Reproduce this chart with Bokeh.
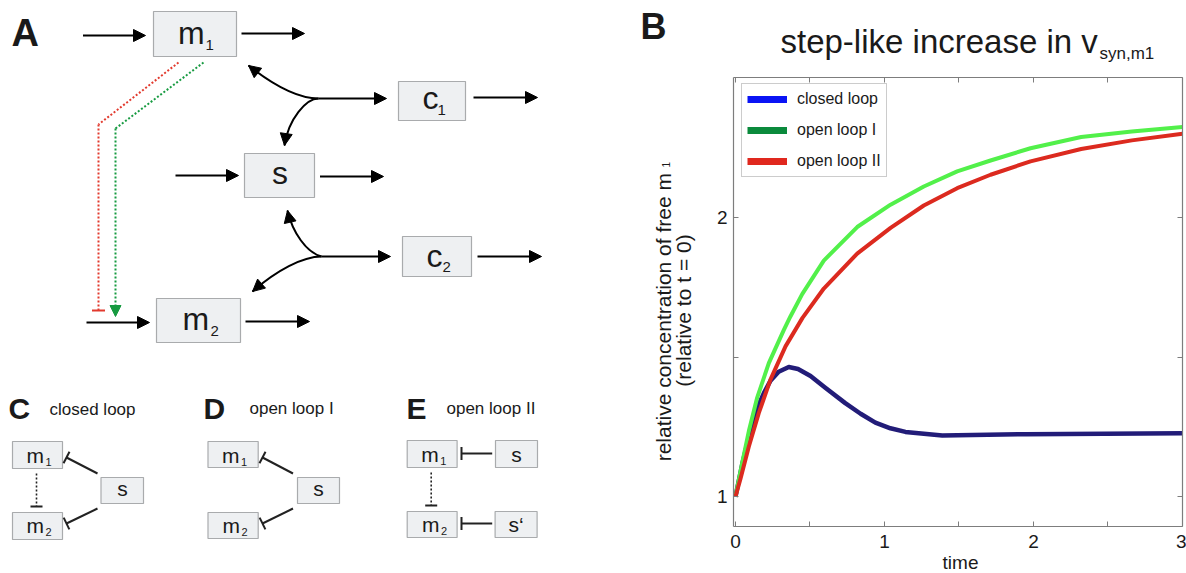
import math
from bokeh.plotting import figure
from bokeh.models import (Range1d, Label, Arrow, NormalHead, TeeHead, LinearAxis,
                          FixedTicker, Legend, LegendItem)
from bokeh.embed import file_html
from bokeh.resources import INLINE

FONT = "Liberation Sans"
INK = "#1a1a1a"

# ---------------- panel B data ----------------
time_closed = [0, 0.045, 0.10, 0.157, 0.19, 0.235, 0.29, 0.358, 0.42, 0.504, 0.603,
               0.737, 0.84, 0.939, 1.04, 1.141, 1.388, 1.95, 3.0]
conc_closed = [1.0, 1.115, 1.235, 1.33, 1.37, 1.415, 1.447, 1.464, 1.457, 1.432, 1.39,
               1.335, 1.297, 1.265, 1.245, 1.232, 1.219, 1.224, 1.227]
time_open1 = [0, 0.045, 0.09, 0.146, 0.224, 0.325, 0.369, 0.448, 0.593, 0.817, 1.041,
              1.264, 1.488, 1.712, 1.98, 2.32, 2.66, 3.0]
conc_open1 = [1.0, 1.12, 1.235, 1.355, 1.478, 1.597, 1.645, 1.725, 1.845, 1.965, 2.045,
              2.11, 2.164, 2.203, 2.247, 2.287, 2.307, 2.323]
time_open2 = [0, 0.034, 0.09, 0.157, 0.235, 0.336, 0.45, 0.593, 0.817, 1.041, 1.264,
              1.488, 1.712, 1.98, 2.32, 2.66, 3.0]
conc_open2 = [1.0, 1.065, 1.18, 1.30, 1.419, 1.538, 1.64, 1.745, 1.87, 1.962, 2.042,
              2.104, 2.152, 2.2, 2.244, 2.275, 2.299]

series_labels = ["closed loop", "open loop I", "open loop II"]
line_colors = ["#221c78", "#52f04a", "#dc2a1f"]
legend_colors = ["#0a14f5", "#0a8a3c", "#e0281e"]

x_ticks = [0, 0.5, 1, 1.5, 2, 2.5, 3]
x_tick_text = ["0", "", "1", "", "2", "", "3"]
y_ticks = [1, 1.5, 2]
y_tick_text = ["1", "", "2"]

title_main = "step-like increase in v"
title_sub = "syn,m1"
ylabel_1 = "relative concentration of free m"
ylabel_1_sub = "1"
ylabel_2 = "(relative to t = 0)"
xlabel = "time"

# ---------------- canvas: one figure, page-pixel coordinates ----------------
W, H = 1186, 573
BOX_L, BOX_R, BOX_T, BOX_B = 733, 1182, 77, 526
X_LO, X_HI = -0.013, 3.0
Y_LO, Y_HI = 0.8936, 2.5
SXB = (BOX_R - BOX_L) / (X_HI - X_LO)
SYB = (BOX_B - BOX_T) / (Y_HI - Y_LO)

p = figure(width=W, height=H, x_range=Range1d(0, W), y_range=Range1d(H, 0),
           x_axis_type=None, y_axis_type=None, output_backend="svg",
           toolbar_location=None, min_border=0)
p.title = None
p.outline_line_color = None
p.extra_x_ranges = {"t": Range1d(X_LO - BOX_L / SXB, X_HI + (W - BOX_R) / SXB)}
p.extra_y_ranges = {"v": Range1d(Y_LO - (H - BOX_B) / SYB, Y_HI + BOX_T / SYB)}

BASE_SHIFT = 0.32  # em; aligns the rendered alphabetic baseline with the target


def label(x, y, s, size, align="left", bold=False, angle=0.0, color=INK):
    if angle:
        x = x - BASE_SHIFT * size
    else:
        y = y - BASE_SHIFT * size
    p.add_layout(Label(x=x, y=y, text=s, text_font=FONT, text_font_size=f"{size}px",
                       text_align=align, text_baseline="alphabetic",
                       text_font_style="bold" if bold else "normal",
                       text_color=color, angle=angle))


# ---------------- diagram panels A, C, D, E ----------------
BOX_FILL = "#eef0f2"
BOX_LINE = "#a9abad"

boxes = [
    (153, 236, 11, 56), (398, 465, 81, 120), (244, 314, 153, 197),
    (402, 471, 236, 276), (156, 240, 298, 342),
    (12, 62, 441, 468), (12, 62, 512, 539), (100.5, 143, 477, 503),
    (207.5, 257.7, 441, 467), (207.5, 257.7, 512, 538), (297, 339, 477, 503),
    (406.7, 456.6, 440, 467), (495, 537, 440, 467),
    (406.7, 456.6, 511, 537), (494.6, 536.6, 511, 537),
]
p.quad(left=[b[0] for b in boxes], right=[b[1] for b in boxes],
       top=[b[2] for b in boxes], bottom=[b[3] for b in boxes],
       fill_color=BOX_FILL, line_color=BOX_LINE, line_width=1.2)

box_texts = [
    (177.5, 43, "m", 32, "left"), (205, 49, "1", 15, "left"),
    (422, 108, "c", 32, "left"), (437, 114, "1", 15, "left"),
    (279.6, 183, "s", 32, "center"),
    (426, 266, "c", 32, "left"), (442, 271, "2", 15, "left"),
    (182, 329, "m", 32, "left"), (210, 335, "2", 15, "left"),
    (26, 462, "m", 21, "left"), (45, 465, "1", 11, "left"),
    (26, 532, "m", 21, "left"), (45, 535, "2", 11, "left"),
    (122, 495, "s", 21, "center"),
    (221.5, 462, "m", 21, "left"), (240.5, 465, "1", 11, "left"),
    (222, 532, "m", 21, "left"), (241, 535, "2", 11, "left"),
    (318, 495, "s", 21, "center"),
    (420.7, 461, "m", 21, "left"), (439.7, 464, "1", 11, "left"),
    (516, 461, "s", 21, "center"),
    (421.5, 531, "m", 21, "left"), (440.5, 534, "2", 11, "left"),
    (515.6, 531, "s\u2018", 21, "center"),
]
for (x, y, s, size, al) in box_texts:
    label(x, y, s, size, align=al)

label(11, 45, "A", 38, bold=True)
label(8, 418, "C", 30, bold=True)
label(49, 414, "closed loop", 17)
label(203, 418, "D", 30, bold=True)
label(249, 413, "open loop I", 17)
label(406, 418, "E", 30, bold=True)
label(446, 413, "open loop II", 17)


def head(color="black", size=12):
    return NormalHead(size=size, fill_color=color, line_color=color, line_width=1)


straight = [
    ((82.5, 35), (145, 35)), ((241, 33), (304, 33)), ((473, 97), (537, 97)),
    ((175, 175), (238, 175)), ((319.5, 176), (383, 176)), ((477, 256), (541, 256)),
    ((86, 322), (149, 322)), ((245, 321), (309, 321)),
    ((318, 98), (386, 98)), ((321, 256), (390, 256)),
]
for (a, b) in straight:
    p.add_layout(Arrow(x_start=a[0], y_start=a[1], x_end=b[0], y_end=b[1],
                       line_width=2, line_color="black", end=head()))

curves = [
    ((318, 98), (298, 98), (272, 84), (248, 65)),
    ((318, 98), (306, 98), (288, 118), (284, 145)),
    ((321, 256), (306, 252), (292, 232), (287, 210)),
    ((321, 256), (302, 256), (276, 270), (252, 291)),
]
for (p0, c0, c1, p1) in curves:
    p.bezier(x0=[p0[0]], y0=[p0[1]], x1=[p1[0]], y1=[p1[1]],
             cx0=[c0[0]], cy0=[c0[1]], cx1=[c1[0]], cy1=[c1[1]],
             line_color="black", line_width=2)
    dx, dy = p1[0] - c1[0], p1[1] - c1[1]
    L = math.hypot(dx, dy)
    p.add_layout(Arrow(x_start=p1[0] - 3 * dx / L, y_start=p1[1] - 3 * dy / L,
                       x_end=p1[0], y_end=p1[1], line_alpha=0, end=head()))

RED = "#e23a2e"
GREEN = "#169a40"
p.line([178, 98], [62, 124], line_color=RED, line_width=2, line_dash="2 2")
p.add_layout(Arrow(x_start=98, y_start=124, x_end=98, y_end=310, line_color=RED,
                   line_width=2, line_dash="2 2",
                   end=TeeHead(size=13, line_color=RED, line_width=2)))
p.line([203, 115], [62, 128], line_color=GREEN, line_width=2, line_dash="2 2")
p.add_layout(Arrow(x_start=115, y_start=128, x_end=115, y_end=316, line_color=GREEN,
                   line_width=2, line_dash="2 2", end=head(GREEN, 11)))

tees = [
    ((97, 473), (66, 457)), ((97, 508), (66, 523)),
    ((292.5, 473), (262, 457)), ((292.5, 508), (262, 523)),
    ((491.7, 453), (461, 453)), ((491.7, 523), (461, 523)),
]
for (a, b) in tees:
    p.add_layout(Arrow(x_start=a[0], y_start=a[1], x_end=b[0], y_end=b[1],
                       line_width=2, line_color="#222222",
                       end=TeeHead(size=13, line_color="#222222", line_width=2)))
for (x, y0, y1) in [(36, 473, 506), (430.7, 472, 505)]:
    p.add_layout(Arrow(x_start=x, y_start=y0, x_end=x, y_end=y1, line_width=1.6,
                       line_color="#222222", line_dash="2 2",
                       end=TeeHead(size=12, line_color="#222222", line_width=2)))

# ---------------- panel B: axes on the plot box ----------------
AX = "#7d7d7d"


def box_axis(side, loc, ticks, texts, bounds, show):
    ax = LinearAxis(x_range_name="t", y_range_name="v", fixed_location=loc,
                    bounds=bounds, ticker=FixedTicker(ticks=ticks),
                    major_label_overrides=dict(zip(ticks, texts if show else [""] * len(ticks))))
    ax.axis_line_color = AX
    ax.axis_line_width = 1.2
    ax.major_tick_line_color = AX
    ax.major_tick_in = 5
    ax.major_tick_out = 0
    ax.minor_tick_line_color = None
    ax.major_label_text_font = FONT
    ax.major_label_text_font_size = "19px" if show else "1px"
    ax.major_label_text_color = INK
    ax.major_label_standoff = (8 if side == "below" else 6) if show else 0
    p.add_layout(ax, side)


box_axis("below", Y_LO, x_ticks, x_tick_text, (X_LO, X_HI), True)
box_axis("left", X_LO, y_ticks, y_tick_text, (Y_LO, Y_HI), True)
box_axis("above", Y_HI, x_ticks, x_tick_text, (X_LO, X_HI), False)
box_axis("right", X_HI, y_ticks, y_tick_text, (Y_LO, Y_HI), False)

series = [(time_closed, conc_closed), (time_open1, conc_open1), (time_open2, conc_open2)]
widths = [4.5, 4, 4]
for (tt, vv), c, w in zip(series, line_colors, widths):
    p.line(tt, vv, line_color=c, line_width=w, line_join="round",
           x_range_name="t", y_range_name="v")

items = []
for lab, c in zip(series_labels, legend_colors):
    r = p.line([float("nan")], [float("nan")], line_color=c, line_width=7,
               x_range_name="t", y_range_name="v")
    items.append(LegendItem(label=lab, renderers=[r]))
legend = Legend(items=items, location=(741, H - 85 - 92), padding=5, spacing=11,
                margin=0, glyph_width=40, glyph_height=20, label_standoff=10,
                label_text_font=FONT, label_text_font_size="16px",
                label_text_color=INK, border_line_color="#9a9a9a",
                border_line_width=1, background_fill_color="white",
                background_fill_alpha=1)
p.add_layout(legend)

label(640, 38, "B", 36, bold=True)
label(780, 52, title_main, 33)
label(1099, 58, title_sub, 17)
label(670, 316.7, ylabel_1, 21, align="center", angle=math.pi / 2)
label(669, 167, ylabel_1_sub, 10, angle=math.pi / 2)
label(690, 310, ylabel_2, 21, align="center", angle=math.pi / 2)
label(960, 568, xlabel, 19, align="center")

open("out.html", "w").write(file_html(p, INLINE))
